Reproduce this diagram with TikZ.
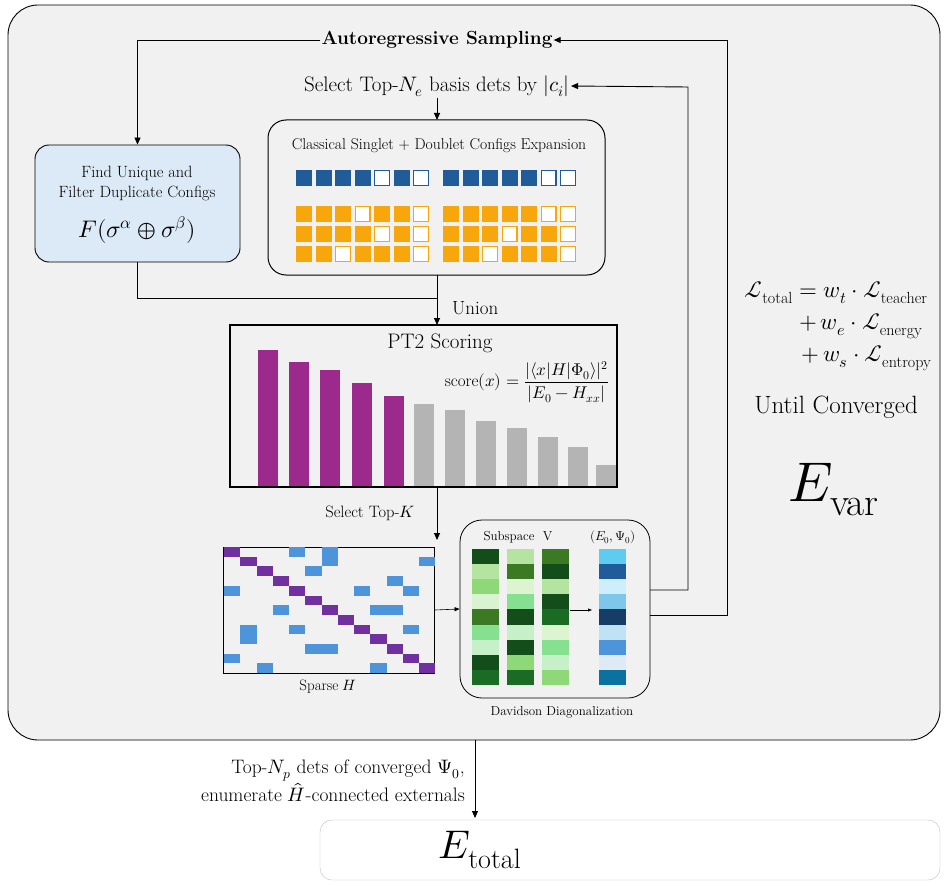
\documentclass[tikz,border=0pt]{standalone}
\usepackage{amsmath}
\usepackage{fontspec}
\usepackage{unicode-math}
\setmathfont{Latin Modern Math}
\usetikzlibrary{arrows.meta}
\definecolor{bgray}{HTML}{F1F1F1}
\definecolor{fblue}{HTML}{DCE9F7}
\definecolor{cblue}{HTML}{1F5C99}
\definecolor{corange}{HTML}{F7A70B}
\definecolor{cpurple}{HTML}{9B2A8C}
\definecolor{cgray}{HTML}{B4B4B4}
\definecolor{dpurple}{HTML}{7030A0}
\definecolor{mblue}{HTML}{4D94DB}
\newcommand{\fs}[1]{\fontsize{#1}{#1}\selectfont}
\begin{document}
\begin{tikzpicture}[x=1pt,y=-1pt,
  arr/.style={-{Triangle[length=7pt,width=6pt]},line width=0.9pt,draw=black},
  t14/.style={font=\fs{20},inner sep=1pt},
  t11/.style={font=\fs{15},inner sep=1pt}]
\useasboundingbox (0,0) rectangle (949,885);
\fill[white] (0,0) rectangle (949,885);
\draw[fill=bgray,rounded corners=30pt,line width=0.9pt] (8,5) rectangle (940,740);
\draw[draw=gray!50,fill=white,rounded corners=12pt] (320,820) rectangle (940,880);
\node (etot) at (480,850) {\fs{40}$E_{\text{total}}$};

\node[t14,font=\fs{19}] (auto) at (437,40) {\textbf{Autoregressive Sampling}};
\node[t14,font=\fs{21}] (sel) at (437,86) {Select Top-$N_e$ basis dets by $|c_i|$};

\node[draw,fill=fblue,rounded corners=14pt,line width=0.9pt,minimum width=205pt,minimum height=117pt] (find) at (137.5,203.5) {};
\node[t11,font=\fs{16.3}] at (137,173) {Find Unique and};
\node[t11,font=\fs{16.3}] at (137,193) {Filter Duplicate Configs};
\node at (137,230) {\fs{24}$F(\sigma^{\alpha}\oplus\sigma^{\beta})$};

\node[draw,rounded corners=18pt,line width=1pt,minimum width=337pt,minimum height=155pt] (cls) at (436.5,197.5) {};
\node[t11,font=\fs{15.7}] at (439,146) {Classical Singlet + Doublet Configs Expansion};
\foreach \row/\y/\col/\pat in {0/170/cblue/{1,1,1,1,0,1,0,1,1,1,1,1,0,0},
  1/206/corange/{1,1,1,0,1,1,0,1,1,1,1,1,0,0},
  2/226/corange/{1,1,1,1,0,1,0,1,1,1,0,1,1,0},
  3/246/corange/{1,1,0,1,1,1,0,1,1,0,1,1,1,0}}{
  \foreach \v [count=\i from 0] in \pat {
    \pgfmathsetmacro{\xx}{\i<7 ? 296+\i*19.5 : 443+(\i-7)*19.5}
    \ifnum\v=1 \fill[\col] (\xx,\y) rectangle ++(16,16);
    \else \draw[\col,line width=1.4pt,fill=white] (\xx+0.7,\y+0.7) rectangle ++(14.6,14.6); \fi
  }}
\coordinate (cbot) at (437,275);
\coordinate (ctop) at (437,120);
\coordinate (junc) at (437,298);

\node[draw,line width=1.2pt,minimum width=387pt,minimum height=162pt] (pt2) at (423.5,406) {};
\coordinate (ptop) at (437,325);
\coordinate (pbot) at (437,487);
\coordinate (hin) at (437,540);
\node[t14,font=\fs{21}] at (440,343) {PT2 Scoring};
\foreach \x/\t in {258/350,289/362,320/370,352/383,384/396}{\fill[cpurple] (\x,\t) rectangle (\x+20,486);}
\foreach \x/\t in {414/404,445/410,476/421,507/428,538/437,568/447,596/465}{\fill[cgray] (\x,\t) rectangle (\x+20,486);}
\node[font=\fs{17},inner sep=1pt] at (527,382) {score$(x)=\dfrac{|\langle x|H|\Phi_0\rangle|^2}{|E_0-H_{xx}|}$};
\node[t14,font=\fs{19},anchor=west] at (451,308) {Union};
\node[t14,font=\fs{16.5}] at (370,513) {Select Top-$K$};

% sparse H
\node[draw,line width=0.8pt,fill=bgray,minimum width=211pt,minimum height=126pt,inner sep=0] (mat) at (329,610) {};
\def\cw{16.25}\def\rh{9.7}
\foreach \i in {0,...,12}{\fill[dpurple] (224+\i*\cw,547+\i*\rh) rectangle ++(\cw,\rh);}
\foreach \c/\r/\w/\h in {4/0/1/1,6/0/1/2,12/1/1/1,5/2/1/1,10/3/1/1,0/4/1/1,8/4/1/1,11/4/1/1,3/6/1/1,9/6/2/1,4/8/1/1,1/8/1/2,11/8/1/1,5/10/2/1,0/11/1/1,2/12/1/1,9/12/1/1}{
  \fill[mblue] (224+\c*\cw,547+\r*\rh) rectangle ++(\w*\cw,\h*\rh);}
\node[t11] at (328,687) {Sparse $H$};

% Davidson
\node[draw,rounded corners=22pt,line width=0.8pt,minimum width=190pt,minimum height=178pt] (dav) at (555,609) {};
\node[t11,font=\fs{13}] at (518,537) {Subspace\ \ V};
\node[t11,font=\fs{13}] at (613,537) {$(E_0,\Psi_0)$};
\foreach \x/\cols in {472/{134D1A,B5E4A0,8FD877,D9F2CF,3B7A23,85E08F,C5F0C8,134D1A,1A6B24},
  507/{B5E4A0,3B7A23,DCF5D0,85E08F,134D1A,C5F0C8,134D1A,8FD877,1A6B24},
  542/{3B7A23,134D1A,B5E4A0,134D1A,1A6B24,DCF5D0,85E08F,C5F0C8,8FD877},
  599/{5ECBF1,1F5C99,CDEEFA,7FC7EA,163D66,BFE3F5,4D94DB,DEEBF7,0A72A1}}{
  \foreach \c [count=\j from 0] in \cols {
    \definecolor{tmpc}{HTML}{\c}
    \fill[tmpc] (\x,549+\j*15.1) rectangle ++(27,15.1);}}
\coordinate (va) at (570,610); \coordinate (vb) at (592,610);
\draw[-{Triangle[length=4pt,width=3pt]},line width=0.6pt] (va) -- (vb);
\node[t11,font=\fs{13}] at (562,712) {Davidson Diagonalization};

% connectors
\coordinate (d1) at (650,615); \coordinate (d2) at (650,590);
\draw[arr] (d1) -| (727,40) -- (auto.east);
\draw[arr] (d2) -| (688,87) -- (sel.east);
\draw[arr] (auto.west) -| (find.north);
\draw[arr] (sel.south -| ctop) -- (ctop);
\draw[line width=0.9pt] (find.south) |- (junc);
\draw[arr] (cbot) -- (ptop);
\draw[arr] (pbot) -- (hin);
\draw[-{Triangle[length=5pt,width=4pt]},line width=0.6pt] (mat.east) -- (dav.west);
\coordinate (eo) at (475,740); \coordinate (ei) at (475,818);
\draw[arr] (eo) -- (ei);

\node[t14,font=\fs{19.5},align=right,anchor=east] at (466,781) {Top-$N_p$ dets of converged $\Psi_0$,\\[1pt]enumerate $\hat{H}$-connected externals};

% right text
\node[anchor=east,font=\fs{23}] at (931,293) {$\mathcal{L}_{\text{total}}=w_t\cdot\mathcal{L}_{\text{teacher}}$};
\node[anchor=east,font=\fs{23}] at (926,326) {$+\,w_e\cdot\mathcal{L}_{\text{energy}}$};
\node[anchor=east,font=\fs{23}] at (935,358) {$+\,w_s\cdot\mathcal{L}_{\text{entropy}}$};
\node[font=\fs{25}] at (836,407) {Until Converged};
\node[font=\fs{56}] at (834,490) {$E_{\text{var}}$};
\end{tikzpicture}
\end{document}
